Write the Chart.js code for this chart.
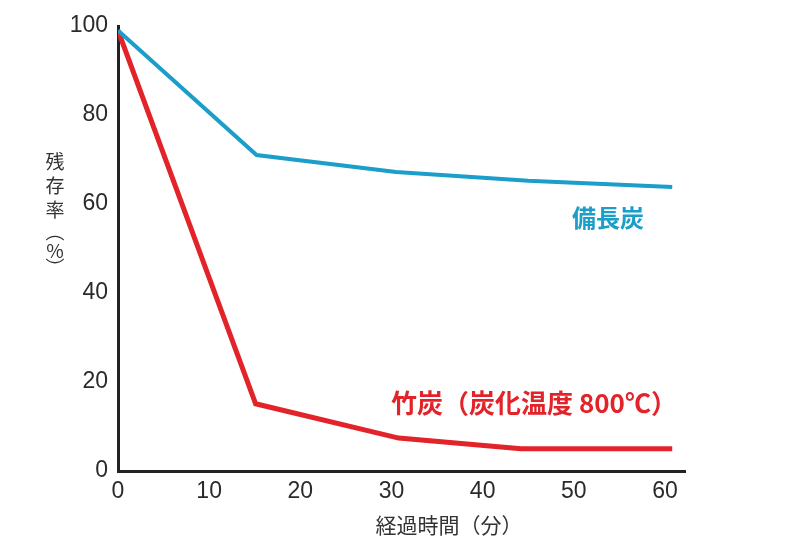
<!DOCTYPE html>
<html>
<head>
<meta charset="utf-8">
<script src="https://cdn.jsdelivr.net/npm/chart.js@4"></script>
<style>
  html, body { margin: 0; padding: 0; background: #fff; }
  #wrap { width: 800px; height: 546px; position: relative; }
</style>
</head>
<body>
<div id="wrap"><canvas id="mychart"></canvas></div>
<script>
// data
const binchoMinutes = [0, 15.2, 30.5, 45, 60.8];
const binchoValues = [99, 71, 67.2, 65.2, 63.8];
const takeMinutes = [0, 15.1, 30.8, 44.2, 60.8];
const takeValues = [99, 15.1, 7.4, 5, 5];
const xTicks = [0, 10, 20, 30, 40, 50, 60];
const yTicks = [0, 20, 40, 60, 80, 100];

const jpFont = '"Noto Sans CJK JP", "Noto Sans", sans-serif';
const numFont = '"Liberation Sans", Arial, sans-serif';
const blue = '#1b9ec9';
const red = '#e2232a';

const labelsPlugin = {
    id: 'labels',
    afterDraw(chart) {
        const ctx = chart.ctx;
        ctx.save();
        ctx.textBaseline = 'middle';
        ctx.textAlign = 'center';

        // series labels
        ctx.font = 'bold 24px ' + jpFont;
        ctx.fillStyle = blue;
        ctx.fillText('備長炭', 608, 218);
        ctx.fillStyle = red;
        ctx.textAlign = 'left';
        ctx.font = 'bold 26px ' + jpFont;
        ctx.fillText('竹炭（炭化温度 800℃）', 391, 403);

        // axis titles
        ctx.fillStyle = '#333';
        ctx.textAlign = 'center';
        ctx.font = '21px ' + jpFont;
        ctx.fillText('経過時間（分）', 449, 525);
        ctx.font = '19px ' + jpFont;
        const chars = ['残', '存', '率', '︵', '%', '︶'];
        const ys = [162, 186, 210, 232, 251, 268];
        chars.forEach(function(c, i) {
            ctx.fillText(c, 55, ys[i]);
        });
        ctx.restore();
    }
};

const abc = document.getElementById('mychart').getContext('2d');
new Chart(abc, {
    type: 'line',
    data: {
        datasets: [{
            label: '備長炭',
            data: binchoMinutes.map((m, i) => ({x: m, y: binchoValues[i]})),
            borderColor: blue,
            borderWidth: 4,
            pointRadius: 0,
            tension: 0,
            fill: false
        }, {
            label: '竹炭',
            data: takeMinutes.map((m, i) => ({x: m, y: takeValues[i]})),
            borderColor: red,
            borderWidth: 5,
            pointRadius: 0,
            tension: 0,
            fill: false
        }]
    },
    options: {
        responsive: true,
        maintainAspectRatio: false,
        animation: false,
        layout: { padding: { top: 26, right: 115, bottom: 0, left: 0 } },
        plugins: { legend: { display: false }, tooltip: { enabled: false } },
        scales: {
            x: {
                type: 'linear',
                min: 0,
                max: 62.2,
                afterBuildTicks: function(scale) { scale.ticks = xTicks.map(v => ({value: v})); },
                afterFit: function(scale) { scale.height = 75; },
                grid: { display: false, drawTicks: false },
                border: { color: '#222', width: 3 },
                ticks: { color: '#2a2a2a', font: { family: numFont, size: 23 }, padding: 7, maxRotation: 0 }
            },
            y: {
                min: 0,
                max: 100,
                afterBuildTicks: function(scale) { scale.ticks = yTicks.map(v => ({value: v})); },
                afterFit: function(scale) { scale.width = 118; },
                grid: { display: false, drawTicks: false },
                border: { color: '#222', width: 3 },
                ticks: { color: '#2a2a2a', font: { family: numFont, size: 23 }, padding: 10 }
            }
        }
    },
    plugins: [labelsPlugin]
});
</script>
</body>
</html>
